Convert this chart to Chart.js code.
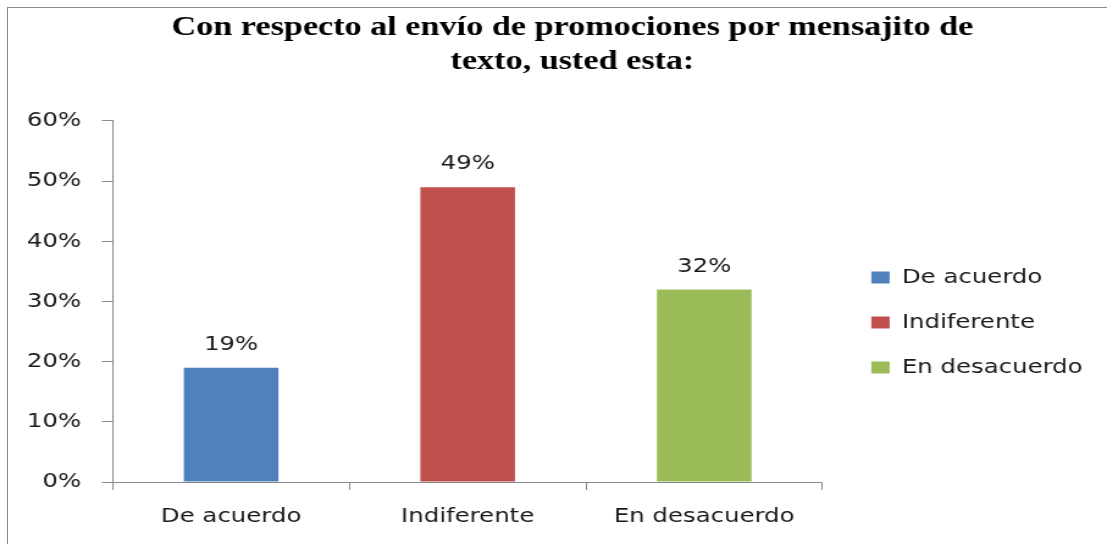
<!DOCTYPE html>
<html>
<head>
<meta charset="utf-8">
<script src="https://cdn.jsdelivr.net/npm/chart.js@4"></script>
<style>
    html, body { margin: 0; padding: 0; background: #fff; overflow: hidden; }
    #frame { position: absolute; left: 7px; top: 7px; width: 1200px; height: 700px; border: 1px solid #8a8a8a; }
    /* el original está estirado a lo ancho: dibujamos más estrecho y escalamos */
    #wrap { position: absolute; left: 0; top: 0; width: 907px; height: 544px; transform: scaleX(1.2205); transform-origin: 0 0; }
</style>
</head>
<body>
<div id="frame"></div>
<div id="wrap"><canvas id="chart"></canvas></div>
<script>
// Datos del gráfico
const categorias = ['De acuerdo', 'Indiferente', 'En desacuerdo'];
const valores = [0.19, 0.49, 0.32];
const colores = ['#4F81BD', '#C0504D', '#9BBB59'];
const titulo = ['Con respecto al envío de promociones por mensajito de', 'texto, usted esta:'];

const fuente = 'DejaVu Sans';
const gris = '#8a8a8a';
const texto = '#1a1a1a';

// Etiquetas de porcentaje encima de cada barra
const etiquetas = {
    id: 'etiquetas',
    afterDatasetsDraw(chart) {
        const ctx = chart.ctx;
        const meta = chart.getDatasetMeta(0);
        ctx.save();
        ctx.font = '20px "' + fuente + '"';
        ctx.fillStyle = texto;
        ctx.textAlign = 'center';
        ctx.textBaseline = 'middle';
        meta.data.forEach((bar, i) => {
            ctx.fillText(Math.round(valores[i] * 100) + '%', bar.x, bar.y - 23);
        });
        ctx.restore();
    }
};

// El título del original está algo desplazado a la derecha
const moverTitulo = {
    id: 'moverTitulo',
    afterLayout(chart) {
        if (chart.titleBlock) chart.titleBlock.left += 36;
    }
};

const ctx = document.getElementById('chart').getContext('2d');
new Chart(ctx, {
    type: 'bar',
    data: {
        labels: categorias,
        datasets: [{
            data: valores,
            backgroundColor: colores,
            borderWidth: 0,
            categoryPercentage: 1,
            barPercentage: 0.4
        }]
    },
    options: {
        responsive: true,
        maintainAspectRatio: false,
        animation: false,
        layout: { padding: { left: 5, right: 10, top: 0, bottom: 0 } },
        plugins: {
            title: {
                display: true,
                text: titulo,
                color: '#000',
                font: { family: 'Liberation Serif', size: 28, weight: 'bold', lineHeight: 1.214 },
                padding: { top: 11, bottom: 42 }
            },
            legend: {
                position: 'right',
                fullSize: false,
                maxWidth: 240,
                title: { display: true, text: '', font: { size: 35, lineHeight: 1.2 }, padding: 0 },
                labels: {
                    color: texto,
                    font: { family: fuente, size: 20 },
                    boxWidth: 15,
                    boxHeight: 12,
                    padding: 25,
                    generateLabels: () => categorias.map((c, i) => ({
                        text: c,
                        fillStyle: colores[i],
                        strokeStyle: colores[i],
                        fontColor: texto,
                        lineWidth: 0,
                        index: i
                    }))
                }
            },
            tooltip: { enabled: false }
        },
        scales: {
            x: {
                offset: true,
                grid: { offset: true, drawOnChartArea: false, color: gris, tickLength: 8 },
                border: { color: gris },
                ticks: { color: texto, font: { family: fuente, size: 20 }, padding: 15 }
            },
            y: {
                min: 0,
                max: 0.6,
                ticks: {
                    stepSize: 0.1,
                    color: texto,
                    font: { family: fuente, size: 20 },
                    padding: 17,
                    callback: v => Math.round(v * 100) + '%'
                },
                grid: { drawOnChartArea: false, color: gris, tickLength: 9 },
                border: { color: gris }
            },
            hueco: {
                position: 'right',
                display: true,
                grid: { display: false },
                border: { display: false },
                ticks: { display: false },
                afterFit: s => { s.width = 15; }
            }
        }
    },
    plugins: [etiquetas, moverTitulo]
});
</script>
</body>
</html>
